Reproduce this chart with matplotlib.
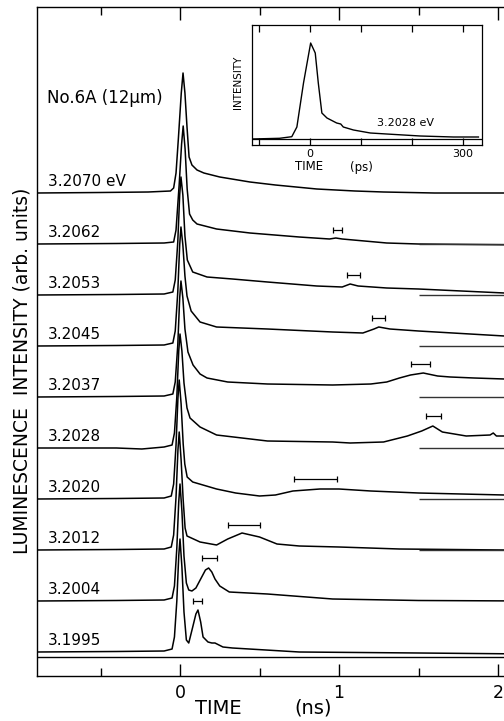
import matplotlib
matplotlib.use('Agg')
import matplotlib.pyplot as plt

plt.rcParams['font.family'] = ['DejaVu Sans']

# trace labels, top to bottom
labels = ['3.2070 eV', '3.2062', '3.2053', '3.2045', '3.2037',
          '3.2028', '3.2020', '3.2012', '3.2004', '3.1995']

# time (ns) and intensity (arb. units, above each trace baseline)
t_2070 = [-0.9, -0.5, -0.2, -0.06, -0.04, -0.025, -0.01, 0.008, 0.019, 0.031, 0.044, 0.057, 0.075,
          0.107, 0.15, 0.25, 0.44, 0.6, 0.86, 1.1, 1.28, 1.6, 2.2]
y_2070 = [0, 0.5, 1, 2, 5, 20, 55, 100, 120, 100, 66, 36, 28, 23, 20, 16, 11, 8, 4, 2, 1, 0, 0]

t_2062 = [-0.9, -0.4, -0.1, -0.04, -0.025, -0.005, 0.01, 0.02, 0.032, 0.045, 0.06, 0.08, 0.107,
          0.23, 0.44, 0.75, 0.94, 0.98, 1.02, 1.3, 1.5, 2.2]
y_2062 = [0, 0.5, 1, 2, 14, 60, 100, 118, 95, 55, 30, 24, 20, 15, 11, 7, 5, 6, 5, 1, 0, -1]

t_2053 = [-0.9, -0.4, -0.1, -0.045, -0.03, -0.014, -0.002, 0.006, 0.018, 0.031, 0.046, 0.08, 0.17,
          0.33, 0.55, 0.86, 1.02, 1.07, 1.12, 1.3, 1.5, 2.04, 2.2]
y_2053 = [0, 0.5, 1, 3, 15, 53, 100, 118, 100, 59, 35, 23, 18, 16, 13, 9, 8, 11, 9, 7, 6, 2, 1]

t_2045 = [-0.9, -0.4, -0.1, -0.045, -0.03, -0.014, -0.002, 0.006, 0.018, 0.031, 0.044, 0.07, 0.126,
          0.23, 0.55, 0.96, 1.15, 1.22, 1.25, 1.32, 1.5, 2.04, 2.2]
y_2045 = [0, 0.5, 1, 3, 15, 54, 101, 119, 101, 70, 50, 35, 24, 19, 17, 14, 13, 17, 19, 17, 15, 10, 9]

t_2037 = [-0.9, -0.4, -0.1, -0.045, -0.03, -0.014, -0.002, 0.006, 0.018, 0.031, 0.05, 0.082, 0.126,
          0.17, 0.3, 0.55, 0.96, 1.2, 1.3, 1.38, 1.45, 1.53, 1.62, 1.7, 1.85, 2.04, 2.2]
y_2037 = [0, 0.5, 1, 3, 15, 52, 99, 116, 99, 68, 45, 32, 23, 19, 15, 13, 12, 13, 15, 19, 22, 24,
          21, 20, 19, 18, 17]

t_2028 = [-0.9, -0.4, -0.24, -0.1, -0.05, -0.035, -0.02, -0.008, 0.0, 0.012, 0.025, 0.044, 0.063,
          0.126, 0.23, 0.55, 0.96, 1.07, 1.28, 1.43, 1.52, 1.59, 1.65, 1.8, 1.95, 1.97, 1.99, 2.04, 2.2]
y_2028 = [0, 0, -1, 1, 3, 15, 51, 97, 114, 97, 65, 40, 30, 21, 13, 7, 6, 5, 6, 12, 17, 22, 16, 12,
          13, 15, 12, 12, 11]

t_2020 = [-0.9, -0.4, -0.1, -0.055, -0.04, -0.025, -0.013, -0.005, 0.007, 0.02, 0.03, 0.045, 0.08,
          0.23, 0.35, 0.5, 0.6, 0.71, 0.88, 1.0, 1.2, 1.5, 2.04, 2.2]
y_2020 = [0, 0.5, 1, 3, 15, 54, 101, 119, 95, 55, 35, 22, 17, 10, 6, 3, 4, 8, 10, 10, 8, 6, 4, 4]

t_2012 = [-0.9, -0.4, -0.1, -0.055, -0.04, -0.025, -0.013, -0.005, 0.007, 0.02, 0.032, 0.044, 0.126,
          0.23, 0.3, 0.39, 0.5, 0.61, 0.75, 1.0, 1.38, 2.04, 2.2]
y_2012 = [0, 0.5, 1, 3, 15, 53, 100, 118, 90, 50, 22, 14, 8, 5, 11, 17, 13, 6, 4, 3, 1, 0, 0]

t_2004 = [-0.9, -0.4, -0.1, -0.05, -0.035, -0.02, -0.008, 0.0, 0.012, 0.025, 0.04, 0.055, 0.075,
          0.1, 0.13, 0.16, 0.18, 0.2, 0.22, 0.25, 0.31, 0.55, 0.96, 1.5, 2.2]
y_2004 = [0, 0.5, 1, 3, 15, 53, 99, 117, 90, 45, 18, 11, 10, 13, 22, 31, 33, 29, 22, 15, 9, 7, 2,
          0.5, 0]

t_1995 = [-0.9, -0.4, -0.1, -0.05, -0.035, -0.02, -0.008, 0.0, 0.012, 0.025, 0.04, 0.055, 0.08,
          0.1, 0.113, 0.13, 0.145, 0.176, 0.2, 0.22, 0.27, 0.33, 0.75, 1.5, 2.2]
y_1995 = [0, 0.5, 1, 3, 15, 51, 96, 113, 85, 40, 12, 9, 25, 38, 42, 30, 15, 10, 9, 9, 5, 4, 0, -1,
          -2]

# horizontal bars over the secondary peaks (ns), and their height above baseline
bar_lo = [None, 0.96, 1.05, 1.21, 1.45, 1.55, 0.72, 0.30, 0.14, 0.08]
bar_hi = [None, 1.02, 1.13, 1.29, 1.57, 1.64, 0.99, 0.50, 0.23, 0.14]
bar_y = [None, 14, 20, 28, 33, 32, 20, 25, 43, 51]
has_zero = [False, True, True, True, True, True, True, True, False, False]

# inset: 3.2028 eV on a ps scale
t_ps = [-114, -60, -36, -26, -13, 1, 10, 16, 23, 33, 52, 60, 65, 85, 118, 150, 183, 216, 281, 330]
inset_y = [6, 6.7, 8.3, 18, 62, 102, 92, 62, 32, 27, 22, 21, 18, 15, 12, 11, 10, 9, 8, 8]

traces = [(t_2070, y_2070), (t_2062, y_2062), (t_2053, y_2053), (t_2045, y_2045),
          (t_2037, y_2037), (t_2028, y_2028), (t_2020, y_2020), (t_2012, y_2012),
          (t_2004, y_2004), (t_1995, y_1995)]

W, H = 504, 721
fig = plt.figure(figsize=(W / 100, H / 100), dpi=100)
ax = fig.add_axes([36.5 / W, 45 / H, (540 - 36.5) / W, 669 / H])
ax.set_xlim(-0.9025, 2.264)
ax.set_ylim(0, 669)

for i, (t, y) in enumerate(traces):
    off = 24 + 51 * (len(traces) - 1 - i)
    ax.plot(t, [v + off for v in y], color='black', lw=1.1)
    ax.text(-0.83, off + 4, labels[i], fontsize=11, ha='left', va='bottom')
    if bar_lo[i] is not None:
        mid = (bar_lo[i] + bar_hi[i]) / 2
        ax.errorbar(mid, off + bar_y[i], xerr=(bar_hi[i] - bar_lo[i]) / 2, fmt='none',
                    ecolor='black', elinewidth=0.9, capsize=2.2, capthick=0.9)
    if has_zero[i]:
        ax.hlines(off, 1.5, 2.3, color='#333333', lw=1.0)

ax.text(-0.836, 569, 'No.6A (12μm)', fontsize=12, ha='left', va='bottom')
ax.axhline(19, color='black', lw=1.0)

for s in ax.spines.values():
    s.set_linewidth(1.0)
ax.set_xticks([0, 1, 2])
ax.set_xticklabels(['0', '1', '2'], fontsize=12.5)
ax.set_xticks([-0.5, 0.5, 1.5], minor=True)
ax.set_yticks([])
ax.tick_params(which='both', direction='in', top=True, bottom=True, left=False, width=1.0)
ax.tick_params(which='major', length=9, pad=6)
ax.tick_params(which='minor', length=5.5)

fig.text(218 / W, 1 - 708 / H, 'TIME', fontsize=14, ha='center', va='center')
fig.text(313.5 / W, 1 - 708 / H, '(ns)', fontsize=14, ha='center', va='center')
fig.text(22 / W, 1 - 371 / H, 'LUMINESCENCE  INTENSITY (arb. units)', fontsize=13.5,
         rotation=90, ha='center', va='center')

# inset
axin = fig.add_axes([252 / W, (H - 145) / H, 230 / W, 120 / H])
axin.plot(t_ps, inset_y, color='black', lw=1.0)
axin.set_xlim(-114, 337)
axin.set_ylim(0, 120)
axin.axhline(6, color='black', lw=0.9)
axin.set_xticks([-100, 0, 100, 200, 300])
axin.set_xticklabels(['', '0', '', '', '300'], fontsize=8)
axin.set_yticks([])
axin.tick_params(direction='in', top=True, bottom=True, left=False, length=5, width=0.9, pad=3)
for s in axin.spines.values():
    s.set_linewidth(0.9)
axin.text(131, 22, '3.2028 eV', fontsize=8, ha='left', va='center')
axin.text(-0.061, 0.525, 'INTENSITY', fontsize=7.5, rotation=90, ha='center', va='center',
          transform=axin.transAxes)
fig.text(309.5 / W, 1 - 167 / H, 'TIME', fontsize=8.5, ha='center', va='center')
fig.text(361 / W, 1 - 167 / H, '(ps)', fontsize=8.5, ha='center', va='center')

fig.savefig('out.png', dpi=100)
